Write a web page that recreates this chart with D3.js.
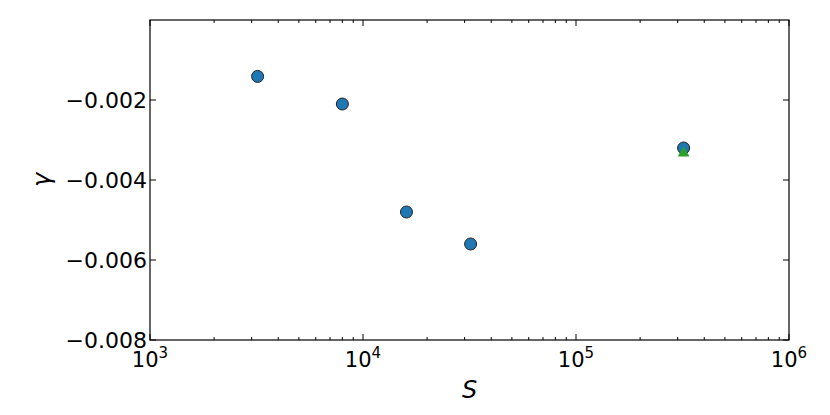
<!DOCTYPE html>
<html><head><meta charset="utf-8">
<script src="https://cdn.jsdelivr.net/npm/d3@7"></script>
<style>body{margin:0;background:#fff}</style>
</head><body>
<svg id="c" width="830" height="415"></svg>
<script>
const sValues = [3200, 8000, 16000, 32000, 320000];
const gammaValues = [-0.00141, -0.0021, -0.0048, -0.0056, -0.0032];
const triS = [320000];
const triGamma = [-0.0033];
const yTicks = [-0.008, -0.006, -0.004, -0.002];
const xTickExp = [3, 4, 5, 6];

const L = 150, R = 789, T = 20, B = 340;
const svg = d3.select("#c");
const x = d3.scaleLog().domain([1e3, 1e6]).range([L, R]);
const y = d3.scaleLinear().domain([-0.008, 0]).range([B, T]);
const font = "DejaVu Sans, sans-serif";

// frame
svg.append("rect").attr("x", L).attr("y", T).attr("width", R - L).attr("height", B - T)
  .attr("fill", "none").attr("stroke", "#000").attr("stroke-width", 1.2);

// x ticks
const minor = [];
for (let e = 3; e < 6; e++) for (let m = 2; m <= 9; m++) minor.push(m * Math.pow(10, e));
const g = svg.append("g").attr("stroke", "#000").attr("stroke-width", 1);
xTickExp.forEach(e => {
  const px = x(Math.pow(10, e));
  g.append("line").attr("x1", px).attr("x2", px).attr("y1", B).attr("y2", B - 6);
  g.append("line").attr("x1", px).attr("x2", px).attr("y1", T).attr("y2", T + 6);
});
minor.forEach(v => {
  const px = x(v);
  g.append("line").attr("x1", px).attr("x2", px).attr("y1", B).attr("y2", B - 3);
  g.append("line").attr("x1", px).attr("x2", px).attr("y1", T).attr("y2", T + 3);
});
yTicks.forEach(v => {
  const py = y(v);
  g.append("line").attr("x1", L).attr("x2", L + 6).attr("y1", py).attr("y2", py);
  g.append("line").attr("x1", R).attr("x2", R - 6).attr("y1", py).attr("y2", py);
});

// y tick labels
yTicks.forEach(v => {
  svg.append("text").attr("x", L - 3).attr("y", y(v)).attr("dy", "0.36em")
    .attr("text-anchor", "end").attr("font-family", font).attr("font-size", 22)
    .text("\u2212" + Math.abs(v).toFixed(3));
});
// x tick labels
xTickExp.forEach(e => {
  const t = svg.append("text").attr("x", x(Math.pow(10, e))).attr("y", B + 27)
    .attr("text-anchor", "middle").attr("font-family", font).attr("font-size", 21);
  t.append("tspan").text("10");
  t.append("tspan").attr("dy", -9).attr("font-size", 15).text(e);
});

// axis labels
svg.append("text").attr("x", (L + R) / 2).attr("y", 398).attr("text-anchor", "middle")
  .attr("font-family", font).attr("font-style", "italic").attr("font-size", 24).text("S");
svg.append("text").attr("transform", `translate(50,${(T + B) / 2}) rotate(-90)`)
  .attr("text-anchor", "middle").attr("font-family", font).attr("font-style", "italic")
  .attr("font-size", 24).text("\u03b3");

// points
svg.selectAll("circle.p").data(sValues.map((s, i) => [s, gammaValues[i]])).enter()
  .append("circle").attr("cx", d => x(d[0])).attr("cy", d => y(d[1])).attr("r", 6)
  .attr("fill", "#1f77b4").attr("stroke", "#222").attr("stroke-width", 1);

const tri = d3.symbol().type(d3.symbolTriangle).size(60);
svg.selectAll("path.t").data(triS.map((s, i) => [s, triGamma[i]])).enter()
  .append("path").attr("d", tri).attr("transform", d => `translate(${x(d[0])},${y(d[1]) + 1})`)
  .attr("fill", "#2ca02c");
</script>
</body></html>
